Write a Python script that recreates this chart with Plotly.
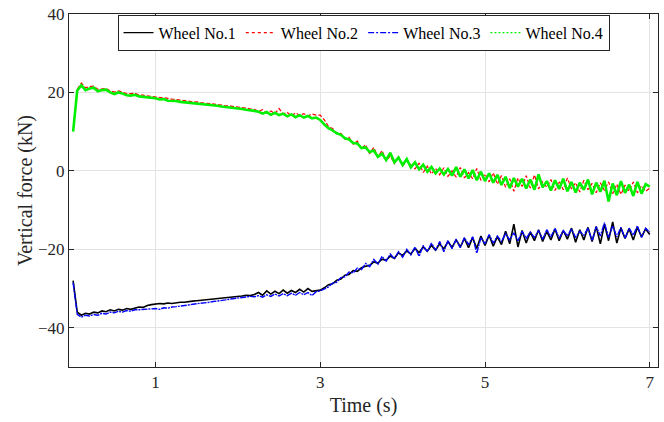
import plotly.graph_objects as go

# sample times (s), step 0.05 s
time = [round(i * 0.05, 2) for i in range(141)]

wheel1 = [
    -28.0, -36.0, -36.8, -36.3, -36.5, -36.0, -36.2, -35.7, -35.9, -35.4, -35.7, -35.3, -35.5, -35.1, -35.3, -34.9, -34.7, -34.8, -34.3, -34.1,
    -33.9, -33.8, -33.9, -33.7, -33.8, -33.6, -33.5, -33.5, -33.3, -33.2, -33.1, -33.0, -32.9, -32.8, -32.7, -32.6, -32.5, -32.3, -32.3, -32.1,
    -32.0, -31.9, -31.7, -31.8, -31.5, -31.0, -31.7, -30.6, -31.4, -30.7, -31.3, -30.4, -31.2, -30.5, -31.0, -30.2, -30.9, -30.0, -30.7, -30.6,
    -30.4, -29.8, -29.0, -28.8, -27.9, -27.6, -26.6, -26.4, -25.4, -25.6, -24.7, -24.3, -24.1, -23.2, -23.5, -22.5, -22.8, -21.7, -22.3, -20.9,
    -21.6, -20.4, -21.2, -19.8, -20.8, -19.4, -20.5, -19.0, -20.2, -18.6, -19.9, -18.0, -19.5, -17.6, -19.4, -17.2, -19.6, -17.0, -19.8, -16.6,
    -19.0, -16.4, -19.2, -16.8, -18.8, -15.4, -18.6, -13.6, -19.4, -15.2, -18.4, -15.6, -17.8, -15.0, -18.0, -15.4, -17.6, -14.8, -17.8, -15.2,
    -17.4, -14.6, -18.2, -15.0, -17.6, -14.4, -18.0, -14.2, -18.6, -13.6, -17.8, -13.0, -18.4, -14.6, -17.2, -14.8, -17.6, -14.4, -16.8, -14.8, -16.2,
]

wheel2 = [
    10.2, 20.8, 22.4, 21.2, 21.5, 21.6, 20.8, 20.9, 21.0, 20.4, 20.1, 20.4, 20.0, 19.7, 19.7, 19.8, 19.3, 19.3, 19.1, 19.0,
    18.9, 18.8, 18.7, 18.5, 18.3, 18.2, 18.0, 17.9, 17.8, 17.6, 17.6, 17.4, 17.3, 17.2, 17.0, 16.9, 16.8, 16.6, 16.6, 16.4,
    16.3, 16.1, 16.0, 15.8, 15.7, 15.2, 15.6, 14.8, 15.3, 14.6, 15.9, 14.5, 14.9, 14.0, 14.8, 14.1, 14.6, 14.0, 14.5, 14.2,
    14.2, 13.0, 11.3, 10.8, 9.6, 9.6, 8.1, 8.6, 6.8, 7.6, 5.6, 6.7, 4.4, 6.0, 3.5, 5.2, 2.6, 3.8, 1.9, 3.6,
    1.2, 2.6, 1.5, 0.5, 2.0, -0.4, 1.2, -0.8, 0.6, -1.0, 0.8, -1.4, 0.0, -1.6, 0.9, -1.8, -0.4, -2.0, 0.6, -2.4,
    -0.8, -2.8, -0.5, -3.4, -1.2, -4.2, -2.0, -5.2, -1.8, -4.0, -1.2, -4.4, -1.0, -4.6, -2.8, -4.2, -2.2, -5.0, -2.6, -4.8,
    -1.8, -4.6, -3.0, -5.4, -2.4, -4.8, -3.2, -5.6, -3.0, -5.0, -2.8, -5.8, -3.4, -6.0, -3.6, -5.2, -2.8, -5.6, -3.8, -5.2, -4.4,
]

wheel3 = [
    -28.5, -36.6, -37.3, -36.8, -37.0, -36.6, -36.8, -36.3, -36.5, -36.0, -36.2, -35.8, -36.0, -35.6, -35.8, -35.4, -35.4, -35.3, -35.2, -35.2,
    -35.1, -35.3, -34.9, -35.0, -34.7, -34.6, -34.5, -34.3, -34.2, -34.0, -33.9, -33.7, -33.6, -33.5, -33.3, -33.2, -33.0, -32.9, -32.7, -32.6,
    -32.4, -32.3, -32.2, -32.0, -32.1, -31.8, -32.2, -31.6, -32.0, -31.4, -31.9, -31.3, -31.8, -31.2, -31.7, -31.0, -31.6, -31.0, -31.8, -30.8,
    -30.6, -30.0, -29.6, -28.6, -28.4, -27.2, -27.0, -25.8, -26.0, -24.8, -25.2, -23.6, -24.4, -22.6, -23.8, -21.8, -23.0, -21.2, -22.4, -20.6,
    -22.0, -20.0, -21.4, -19.4, -21.8, -19.0, -20.6, -18.4, -20.2, -18.0, -20.6, -17.8, -19.8, -17.4, -19.6, -17.0, -18.8, -16.8, -21.0, -17.0,
    -18.6, -16.2, -18.4, -16.6, -18.0, -16.0, -17.6, -15.8, -17.8, -15.4, -17.2, -15.6, -17.0, -15.2, -17.4, -15.0, -16.8, -14.6, -17.2, -15.2,
    -16.6, -14.8, -17.0, -15.4, -16.4, -14.6, -17.8, -14.2, -16.6, -13.2, -17.0, -14.0, -16.8, -14.4, -17.2, -14.6, -16.4, -14.0, -17.0, -14.6, -15.6,
]

wheel4 = [
    10.0, 20.5, 21.8, 20.6, 21.0, 21.2, 20.3, 20.6, 20.7, 20.0, 19.6, 20.0, 19.7, 19.3, 19.2, 19.4, 19.0, 18.9, 18.8, 18.6,
    18.5, 18.2, 18.3, 17.9, 17.9, 17.8, 17.6, 17.5, 17.4, 17.3, 17.2, 17.1, 17.0, 16.8, 16.7, 16.6, 16.4, 16.3, 16.2, 16.1,
    15.9, 15.8, 15.6, 15.5, 15.3, 15.1, 14.6, 15.0, 14.3, 14.8, 14.2, 14.6, 13.9, 14.4, 13.7, 14.2, 13.6, 14.0, 13.4, 13.6,
    13.0, 11.8, 10.9, 10.3, 9.6, 9.2, 8.3, 8.0, 7.1, 7.0, 5.8, 6.0, 4.8, 5.2, 3.6, 4.4, 2.8, 4.6, 2.2, 3.4,
    1.5, 3.0, 0.9, 2.2, 0.4, 1.6, -0.2, 1.0, -0.6, 0.6, -0.9, 0.5, -1.2, 1.0, -1.5, 0.4, -1.9, 0.2, -2.4, -0.2,
    -2.6, -0.6, -3.0, -1.0, -3.6, -1.5, -4.4, -1.8, -4.0, -2.0, -4.5, -2.2, -4.8, -0.9, -4.2, -2.6, -5.0, -2.4, -4.6, -2.0,
    -5.2, -2.8, -5.5, -3.0, -4.8, -2.2, -6.0, -3.0, -5.3, -2.5, -7.8, -3.2, -6.2, -2.6, -5.6, -3.5, -6.4, -2.8, -5.8, -3.4, -4.0,
]

names = ["Wheel No.1", "Wheel No.2", "Wheel No.3", "Wheel No.4"]
series = [wheel1, wheel2, wheel3, wheel4]
colors = ["#000000", "#ff0000", "#0000ff", "#00f000"]
data_dash = ["solid", "4px,2px", "6px,1px,2px,1px", "solid"]
data_width = [1.6, 1.2, 1.4, 2.6]
legend_dash = ["solid", "3px,3px", "6px,2px,2px,2px", "2px,2px"]
legend_width = [1.2, 1.2, 1.2, 1.2]

fig = go.Figure()
for name, ys, c, d, w in zip(names, series, colors, data_dash, data_width):
    fig.add_trace(go.Scatter(x=time, y=ys, mode="lines", name=name,
                             line=dict(color=c, dash=d, width=w),
                             showlegend=False))
for name, c, d, w in zip(names, colors, legend_dash, legend_width):
    fig.add_trace(go.Scatter(x=[None], y=[None], mode="lines", name=name,
                             line=dict(color=c, dash=d, width=w),
                             showlegend=True))

font_family = "Liberation Serif, Times New Roman, serif"
axis_common = dict(
    showline=True, linecolor="#262626", linewidth=1, mirror="ticks",
    ticks="inside", ticklen=5, tickcolor="#262626",
    showgrid=True, gridcolor="#e3e3e3", gridwidth=1,
    zeroline=False,
    tickfont=dict(family=font_family, size=17, color="#262626"),
)

fig.update_layout(
    width=664, height=422, autosize=False,
    margin=dict(l=69, r=6, t=14, b=55),
    paper_bgcolor="white", plot_bgcolor="white",
    font=dict(family=font_family, color="#262626"),
    xaxis=dict(range=[-0.05, 7.1], tickvals=[1, 3, 5, 7],
               title=dict(text="Time (s)", font=dict(family=font_family, size=20), standoff=6),
               **axis_common),
    yaxis=dict(range=[-50, 40], tickvals=[-40, -20, 0, 20, 40],
               title=dict(text="Vertical force (kN)", font=dict(family=font_family, size=20), standoff=0),
               **axis_common),
    legend=dict(orientation="h", x=0.5, xanchor="center", y=0.998, yanchor="top",
                bgcolor="white", bordercolor="#262626", borderwidth=1,
                font=dict(family=font_family, size=16, color="#000000"),
                itemwidth=30, tracegroupgap=0, itemclick=False),
)

fig.write_html("out.html")
